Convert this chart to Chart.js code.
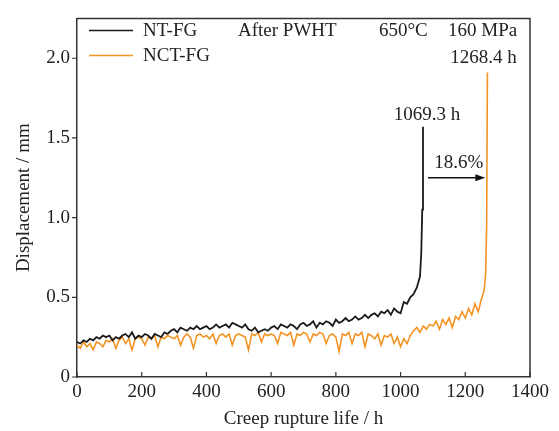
<!DOCTYPE html>
<html>
<head>
<meta charset="utf-8">
<script src="https://cdn.jsdelivr.net/npm/chart.js@4.4.0/dist/chart.umd.min.js"></script>
<style>
  html, body { margin: 0; padding: 0; background: #fff; }
  #wrap { width: 559px; height: 431px; }
</style>
</head>
<body>
<div id="wrap"><canvas id="creepChart"></canvas></div>
<script>
// NT-FG, creep displacement (mm) against time (h)
const ntTime = [
  0, 10, 20, 30, 40, 50, 60, 70, 80, 90,
  100, 110, 120, 130, 140, 150, 160, 170, 180, 190,
  200, 210, 220, 230, 240, 250, 260, 270, 280, 290,
  300, 310, 320, 330, 340, 350, 360, 370, 380, 390,
  400, 410, 420, 430, 440, 450, 460, 470, 480, 490,
  500, 510, 520, 530, 540, 550, 560, 570, 580, 590,
  600, 610, 620, 630, 640, 650, 660, 670, 680, 690,
  700, 710, 720, 730, 740, 750, 760, 770, 780, 790,
  800, 810, 820, 830, 840, 850, 860, 870, 880, 890,
  900, 910, 920, 930, 940, 950, 960, 970, 980, 990,
  1000, 1010, 1020, 1030, 1040, 1050, 1060, 1064, 1067, 1069.3
];
const ntDisp = [
  0.22, 0.21, 0.23, 0.22, 0.24, 0.23, 0.25, 0.24, 0.26, 0.25,
  0.26, 0.23, 0.25, 0.24, 0.26, 0.27, 0.25, 0.28, 0.24, 0.26,
  0.25, 0.27, 0.26, 0.24, 0.27, 0.26, 0.25, 0.28, 0.27, 0.29,
  0.30, 0.28, 0.31, 0.30, 0.29, 0.31, 0.30, 0.32, 0.30, 0.31,
  0.32, 0.30, 0.31, 0.33, 0.31, 0.32, 0.33, 0.31, 0.34, 0.33,
  0.32, 0.31, 0.33, 0.30, 0.29, 0.31, 0.28, 0.29, 0.30, 0.29,
  0.31, 0.32, 0.30, 0.33, 0.32, 0.31, 0.33, 0.32, 0.30, 0.33,
  0.34, 0.32, 0.33, 0.35, 0.31, 0.34, 0.33, 0.35, 0.34, 0.32,
  0.36, 0.34, 0.35, 0.37, 0.35, 0.36, 0.38, 0.36, 0.37, 0.39,
  0.37, 0.39, 0.40, 0.38, 0.41, 0.40, 0.42, 0.39, 0.43, 0.41,
  0.40, 0.47, 0.46, 0.50, 0.52, 0.56, 0.63, 0.78, 1.05, 1.57
];

// NCT-FG
const nctTime = [
  0, 10, 20, 30, 40, 50, 60, 70, 80, 90,
  100, 110, 120, 130, 140, 150, 160, 170, 180, 190,
  200, 210, 220, 230, 240, 250, 260, 270, 280, 290,
  300, 310, 320, 330, 340, 350, 360, 370, 380, 390,
  400, 410, 420, 430, 440, 450, 460, 470, 480, 490,
  500, 510, 520, 530, 540, 550, 560, 570, 580, 590,
  600, 610, 620, 630, 640, 650, 660, 670, 680, 690,
  700, 710, 720, 730, 740, 750, 760, 770, 780, 790,
  800, 810, 820, 830, 840, 850, 860, 870, 880, 890,
  900, 910, 920, 930, 940, 950, 960, 970, 980, 990,
  1000, 1010, 1020, 1030, 1040, 1050, 1060, 1070, 1080, 1090,
  1100, 1110, 1120, 1130, 1140, 1150, 1160, 1170, 1180, 1190,
  1200, 1210, 1220, 1230, 1240, 1250, 1258, 1263, 1266, 1268.4
];
const nctDisp = [
  0.20, 0.18, 0.22, 0.19, 0.21, 0.17, 0.22, 0.21, 0.19, 0.23,
  0.22, 0.24, 0.18, 0.23, 0.25, 0.21, 0.24, 0.17, 0.24, 0.25,
  0.24, 0.20, 0.25, 0.24, 0.26, 0.19, 0.25, 0.24, 0.26, 0.25,
  0.24, 0.26, 0.20, 0.25, 0.27, 0.25, 0.18, 0.26, 0.27, 0.25,
  0.26, 0.24, 0.27, 0.21, 0.26, 0.27, 0.25, 0.27, 0.20, 0.26,
  0.27, 0.26, 0.25, 0.17, 0.27, 0.26, 0.28, 0.22, 0.27, 0.26,
  0.27, 0.26, 0.21, 0.28, 0.27, 0.26, 0.28, 0.20, 0.27, 0.26,
  0.28, 0.27, 0.22, 0.27, 0.26, 0.28, 0.27, 0.21, 0.26, 0.27,
  0.25, 0.16, 0.27, 0.26, 0.28, 0.21, 0.27, 0.26, 0.28, 0.19,
  0.27, 0.26, 0.24, 0.27, 0.20, 0.26, 0.25, 0.27, 0.21, 0.25,
  0.19, 0.24, 0.21, 0.26, 0.29, 0.31, 0.28, 0.32, 0.30, 0.33,
  0.32, 0.35, 0.30, 0.36, 0.33, 0.37, 0.31, 0.38, 0.36, 0.41,
  0.37, 0.43, 0.39, 0.46, 0.41, 0.49, 0.54, 0.65, 0.95, 1.91
];

const seriesNames = ['NT-FG', 'NCT-FG'];
const seriesColors = ['#1a1a1a', '#f39323'];
const xTicks = [0, 200, 400, 600, 800, 1000, 1200, 1400];
const yTicks = [0, 0.5, 1.0, 1.5, 2.0];
const ruptureLabels = ['1069.3 h', '1268.4 h'];
const conditionText = ['After PWHT', '650°C', '160 MPa'];
const gainText = '18.6%';

const FONT = '"Liberation Serif", "Times New Roman", serif';
const AXIS_COLOR = '#333';

const toPoints = (xs, ys) => xs.map((x, i) => ({ x: x, y: ys[i] }));

// draws the box, inward/outward ticks, legend and the text notes
const decorations = {
  id: 'decorations',
  afterDraw(chart) {
    const { ctx, chartArea: a, scales: { x, y } } = chart;
    ctx.save();

    // frame top + right
    ctx.strokeStyle = AXIS_COLOR;
    ctx.lineWidth = 1.5;
    ctx.beginPath();
    ctx.moveTo(a.left, a.top);
    ctx.lineTo(a.right, a.top);
    ctx.lineTo(a.right, a.bottom);
    ctx.stroke();

    // x ticks point into the plot, y ticks point out
    ctx.lineWidth = 1.2;
    ctx.beginPath();
    xTicks.forEach(v => {
      const px = x.getPixelForValue(v);
      ctx.moveTo(px, a.bottom);
      ctx.lineTo(px, a.bottom - 5);
    });
    yTicks.forEach(v => {
      const py = y.getPixelForValue(v);
      ctx.moveTo(a.left, py);
      ctx.lineTo(a.left - 5, py);
    });
    ctx.stroke();

    ctx.font = '19px ' + FONT;
    ctx.fillStyle = '#222';
    ctx.textBaseline = 'middle';

    // legend
    seriesNames.forEach((name, i) => {
      const ly = a.top + 12 + i * 25;
      ctx.strokeStyle = seriesColors[i];
      ctx.lineWidth = 1.5;
      ctx.beginPath();
      ctx.moveTo(a.left + 12, ly);
      ctx.lineTo(a.left + 56, ly);
      ctx.stroke();
      ctx.textAlign = 'left';
      ctx.fillText(name, a.left + 66, ly + 1);
    });

    // test conditions
    ctx.textAlign = 'left';
    ctx.fillText(conditionText[0], 238, a.top + 13);
    ctx.fillText(conditionText[1], 379, a.top + 13);
    ctx.fillText(conditionText[2], 448, a.top + 13);

    // rupture times
    ctx.textAlign = 'center';
    ctx.fillText(ruptureLabels[0], x.getPixelForValue(1069.3) + 4, y.getPixelForValue(1.63) - 2);
    ctx.fillText(ruptureLabels[1], x.getPixelForValue(1268.4) - 4, y.getPixelForValue(1.99) - 2);

    // life gain arrow
    const ay = y.getPixelForValue(1.25);
    const ax0 = x.getPixelForValue(1085);
    const ax1 = x.getPixelForValue(1262);
    ctx.strokeStyle = '#111';
    ctx.lineWidth = 1.5;
    ctx.beginPath();
    ctx.moveTo(ax0, ay);
    ctx.lineTo(ax1 - 8, ay);
    ctx.stroke();
    ctx.fillStyle = '#111';
    ctx.beginPath();
    ctx.moveTo(ax1, ay);
    ctx.lineTo(ax1 - 10, ay - 3.5);
    ctx.lineTo(ax1 - 10, ay + 3.5);
    ctx.closePath();
    ctx.fill();
    ctx.fillStyle = '#222';
    ctx.fillText(gainText, (ax0 + ax1) / 2 + 2, ay - 15);

    ctx.restore();
  }
};

const ctx = document.getElementById('creepChart').getContext('2d');

new Chart(ctx, {
  type: 'line',
  data: {
    datasets: [
      {
        label: seriesNames[0],
        data: toPoints(ntTime, ntDisp),
        borderColor: seriesColors[0],
        borderWidth: 1.8,
        pointRadius: 0,
        tension: 0
      },
      {
        label: seriesNames[1],
        data: toPoints(nctTime, nctDisp),
        borderColor: seriesColors[1],
        borderWidth: 1.6,
        pointRadius: 0,
        tension: 0
      }
    ]
  },
  options: {
    responsive: true,
    maintainAspectRatio: false,
    animation: false,
    layout: { padding: { top: 12, right: 29, bottom: 0, left: 0 } },
    plugins: {
      legend: { display: false },
      tooltip: { enabled: false }
    },
    scales: {
      x: {
        type: 'linear',
        min: 0,
        max: 1400,
        afterFit: s => { s.height = 54; },
        afterBuildTicks: s => { s.ticks = xTicks.map(v => ({ value: v })); },
        grid: { display: false, drawTicks: false },
        border: { display: true, color: AXIS_COLOR, width: 1.5 },
        ticks: {
          color: '#222',
          padding: 4,
          maxRotation: 0,
          font: { family: FONT, size: 19 },
          callback: v => String(v)
        },
        title: {
          display: true,
          text: 'Creep rupture life / h',
          color: '#222',
          padding: { top: 0, bottom: 1 },
          font: { family: FONT, size: 19 }
        }
      },
      y: {
        min: 0,
        max: 2.25,
        afterFit: s => { s.width = 77; },
        afterBuildTicks: s => { s.ticks = yTicks.map(v => ({ value: v })); },
        grid: { display: false, drawTicks: false },
        border: { display: true, color: AXIS_COLOR, width: 1.5 },
        ticks: {
          color: '#222',
          padding: 7,
          font: { family: FONT, size: 19 },
          callback: v => (v === 0 ? '0' : v.toFixed(1))
        },
        title: {
          display: true,
          text: 'Displacement / mm',
          color: '#222',
          padding: { top: 13, bottom: 0 },
          font: { family: FONT, size: 19 }
        }
      }
    }
  },
  plugins: [decorations]
});
</script>
</body>
</html>
